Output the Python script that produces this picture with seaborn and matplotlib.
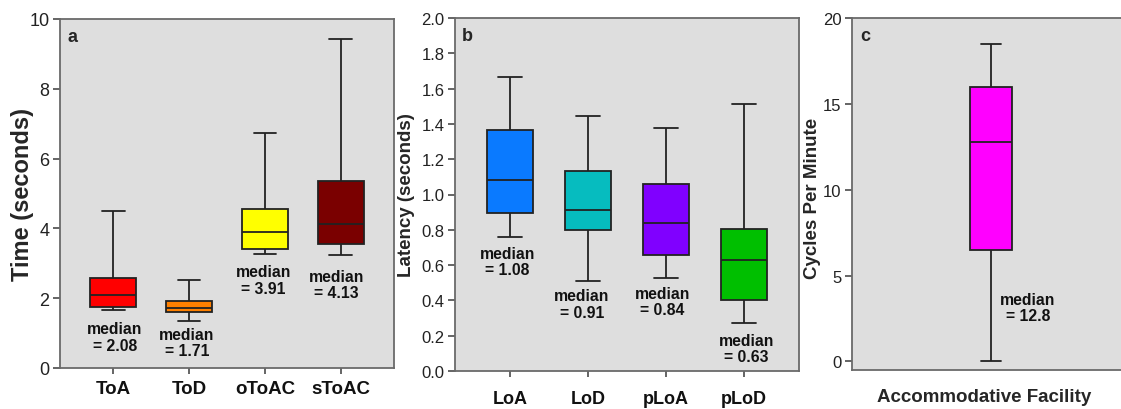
import numpy as np
import pandas as pd
import matplotlib
matplotlib.use("Agg")
import matplotlib.pyplot as plt
import seaborn as sns

# ---- panel a: response times ----
a_cats = ["ToA", "ToD", "oToAC", "sToAC"]
a_min = [1.65, 1.36, 3.27, 3.23]
a_q1 = [1.74, 1.60, 3.42, 3.54]
a_med = [2.08, 1.71, 3.91, 4.13]
a_q3 = [2.57, 1.93, 4.56, 5.37]
a_max = [4.51, 2.51, 6.74, 9.43]
a_colors = ["#ff0000", "#ff8000", "#ffff00", "#7a0000"]

# ---- panel b: latencies ----
b_cats = ["LoA", "LoD", "pLoA", "pLoD"]
b_min = [0.76, 0.51, 0.525, 0.27]
b_q1 = [0.894, 0.797, 0.655, 0.405]
b_med = [1.08, 0.91, 0.84, 0.63]
b_q3 = [1.364, 1.133, 1.061, 0.803]
b_max = [1.667, 1.443, 1.379, 1.515]
b_colors = ["#0a7aff", "#06bcbf", "#8000ff", "#00bf00"]

# ---- panel c: accommodative facility ----
c_cats = ["Accommodative Facility"]
c_min = [0.0]
c_q1 = [6.5]
c_med = [12.8]
c_q3 = [16.0]
c_max = [18.5]
c_colors = ["#ff00ff"]


def five_number_frame(cats, mins, q1s, meds, q3s, maxs):
    # five values per group reproduce min / quartiles / median / max exactly
    rows = []
    for c, lo, q1, m, q3, hi in zip(cats, mins, q1s, meds, q3s, maxs):
        for v in (lo, q1, m, q3, hi):
            rows.append({"group": c, "value": v})
    return pd.DataFrame(rows)


sns.set_style("ticks")
plt.rcParams["font.family"] = ["Liberation Sans", "DejaVu Sans"]

BG = "#dedede"
FRAME = "#6a6a6a"
TICKC = "#3a3a3a"

fig = plt.figure(figsize=(11.21, 4.10), dpi=100)
ax_a = fig.add_axes([60 / 1121, 41 / 410, 334 / 1121, 349 / 410])
ax_b = fig.add_axes([455 / 1121, 38 / 410, 344 / 1121, 353 / 410])
ax_c = fig.add_axes([852 / 1121, 39 / 410, 278 / 1121, 352 / 410])


def draw_panel(ax, cats, mins, q1s, meds, q3s, maxs, colors, width, ysize):
    df = five_number_frame(cats, mins, q1s, meds, q3s, maxs)
    sns.boxplot(data=df, x="group", y="value", hue="group", order=cats,
                hue_order=cats, palette=colors, saturation=1, width=width,
                whis=np.inf, linecolor="#222222", linewidth=1.3,
                legend=False, ax=ax)
    ax.set_facecolor(BG)
    for s in ax.spines.values():
        s.set_color(FRAME)
        s.set_linewidth(1.3)
    ax.tick_params(axis="y", direction="out", length=5, width=1.1,
                   color=TICKC, labelsize=ysize, labelcolor="#222222", pad=2.5)
    ax.set_xlabel("")


draw_panel(ax_a, a_cats, a_min, a_q1, a_med, a_q3, a_max, a_colors, 0.6, 13)
draw_panel(ax_b, b_cats, b_min, b_q1, b_med, b_q3, b_max, b_colors, 0.6, 12)
draw_panel(ax_c, c_cats, c_min, c_q1, c_med, c_q3, c_max, c_colors, 0.15, 12)

# axis ranges and ticks
ax_a.set_xlim(-0.7, 3.7)
ax_a.set_ylim(0, 10)
ax_a.set_yticks([0, 2, 4, 6, 8, 10])
ax_a.set_yticklabels(["0", "2", "4", "6", "8", "10"])

ax_b.set_xlim(-0.705, 3.705)
ax_b.set_ylim(0, 2.0)
b_ticks = [0.0, 0.2, 0.4, 0.6, 0.8, 1.0, 1.2, 1.4, 1.6, 1.8, 2.0]
ax_b.set_yticks(b_ticks)
ax_b.set_yticklabels([f"{t:.1f}" for t in b_ticks])

ax_c.set_xlim(-0.5, 0.5)
ax_c.set_ylim(-0.5, 20)
ax_c.set_yticks([0, 5, 10, 15, 20])
ax_c.set_yticklabels(["0", "5", "10", "15", "20"])
ax_c.set_xticks([])

for ax, pad, size in ((ax_a, 5, 13.5), (ax_b, 10, 13)):
    ax.tick_params(axis="x", direction="out", length=4, width=1.1,
                   color=TICKC, pad=pad)
    for lbl in ax.get_xticklabels():
        lbl.set_fontsize(size)
        lbl.set_fontweight("bold")
        lbl.set_color("#111111")

# axis titles (label coordinates mark the label's right edge)
ax_a.set_ylabel("Time (seconds)", fontsize=17, fontweight="bold")
ax_a.yaxis.set_label_coords(-0.078, 0.5)
ax_b.set_ylabel("Latency (seconds)", fontsize=13.5, fontweight="bold")
ax_b.yaxis.set_label_coords(-0.116, 0.5)
ax_c.set_ylabel("Cycles Per Minute", fontsize=13.5, fontweight="bold")
ax_c.yaxis.set_label_coords(-0.113, 0.49)
ax_c.set_xlabel("Accommodative Facility", fontsize=13.5, fontweight="bold")
ax_c.xaxis.set_label_coords(0.475, -0.052)

# panel letters
for ax, letter, x in ((ax_a, "a", 0.021), (ax_b, "b", 0.02), (ax_c, "c", 0.029)):
    ax.text(x, 0.951, letter, transform=ax.transAxes, fontsize=13,
            fontweight="bold", ha="left", va="center")

# median annotations
def annotate(ax, xs, ys, meds, fmt):
    for x, y, m in zip(xs, ys, meds):
        ax.text(x, y, "median\n= " + fmt.format(m), ha="center", va="center",
                multialignment="center", fontsize=11.3, fontweight="bold",
                linespacing=1.1, color="#111111")

annotate(ax_a, [0.02, 0.97, 1.98, 2.94], [0.89, 0.72, 2.52, 2.39], a_med, "{:.2f}")
annotate(ax_b, [-0.03, 0.92, 1.95, 3.03], [0.62, 0.38, 0.395, 0.127], b_med, "{:.2f}")
annotate(ax_c, [0.133], [3.15], c_med, "{:.1f}")

fig.savefig("out.png", dpi=100)
